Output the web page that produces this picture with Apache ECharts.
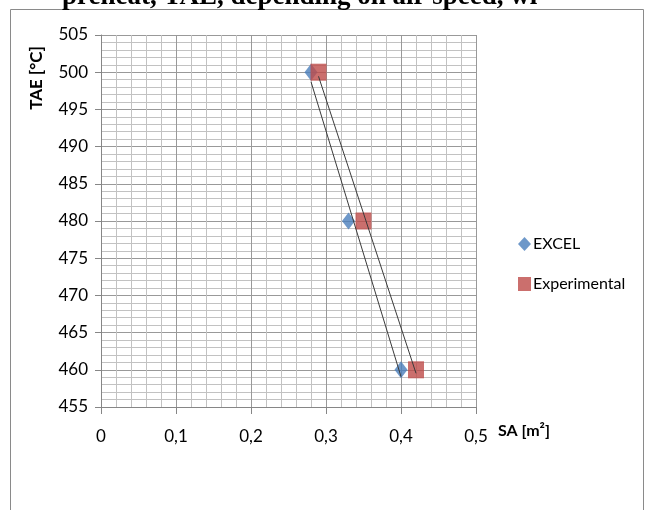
<!DOCTYPE html>
<html><head><meta charset="utf-8">
<script src="https://cdn.jsdelivr.net/npm/echarts@6/dist/echarts.min.js"></script>
<style>html,body{margin:0;padding:0;background:#fff}#c{width:647px;height:510px}</style>
</head><body><div id="c"></div>
<script>
const titleText = 'preheat, TAE, depending on air speed, wi';
const seriesNames = ['EXCEL', 'Experimental'];
const excelSA = [0.28, 0.33, 0.40];
const excelTAE = [500, 480, 460];
const expSA = [0.29, 0.35, 0.42];
const expTAE = [500, 480, 460];
const xTicks = [0, 0.1, 0.2, 0.3, 0.4, 0.5];
const yTicks = [455, 460, 465, 470, 475, 480, 485, 490, 495, 500, 505];

function pairs(xs, ys){ return xs.map((x,i)=>[x, ys[i]]); }
// Excel-style linear trendline (least squares) over the data range
function trend(xs, ys){
  const n = xs.length;
  const mx = xs.reduce((a,b)=>a+b,0)/n, my = ys.reduce((a,b)=>a+b,0)/n;
  let sxx=0, sxy=0;
  for(let i=0;i<n;i++){ sxx+=(xs[i]-mx)*(xs[i]-mx); sxy+=(xs[i]-mx)*(ys[i]-my); }
  const b = sxy/sxx, a = my - b*mx;
  const x0 = Math.min(...xs), x1 = Math.max(...xs);
  return [[x0, a+b*x0],[x1, a+b*x1]];
}
const font = 'Lato, "Open Sans", sans-serif';
const chart = echarts.init(document.getElementById('c'), null, {renderer:'canvas'});
chart.setOption({
  backgroundColor:'#ffffff',
  animation:false,
  graphic:[
    {type:'rect', shape:{x:10.5, y:9.5, width:633, height:520}, style:{fill:null, stroke:'#8a8a8a', lineWidth:1}, z:-1},
    {type:'text', x:62, y:11, style:{text:titleText, font:'bold 27px "Liberation Serif", "Times New Roman", serif', fill:'#000', textVerticalAlign:'bottom', verticalAlign:'bottom'}},
    {type:'text', x:37, y:78, rotation:Math.PI/2, style:{text:'TAE [°C]', font:'bold 17px '+font, fill:'#000', align:'center', verticalAlign:'middle', textAlign:'center', textVerticalAlign:'middle'}}
  ],
  grid:{left:101, right:171, top:35, bottom:103, containLabel:false},
  legend:{
    data:[{name:seriesNames[0], icon:'diamond'},{name:seriesNames[1], icon:'rect'}],
    orient:'vertical', left:513, top:231, itemGap:24, itemWidth:13, itemHeight:14,
    textStyle:{fontFamily:font, fontSize:16, color:'#000', padding:[0,0,0,-3]}
  },
  xAxis:{
    type:'value', min:0, max:0.5, interval:0.1,
    name:'SA [m²]', nameLocation:'end', nameGap:22,
    nameTextStyle:{fontFamily:font, fontWeight:'bold', fontSize:16, color:'#000', align:'left', verticalAlign:'top', padding:[16,0,0,0]},
    axisLine:{show:true, lineStyle:{color:'#868686', width:1}},
    axisTick:{show:true, length:7, lineStyle:{color:'#868686'}},
    axisLabel:{fontFamily:font, fontSize:17, color:'#000', margin:21, formatter:v=>String(Math.round(v*10)/10).replace('.',',')},
    splitLine:{show:true, lineStyle:{color:'#999999', width:1}},
    minorTick:{show:false, splitNumber:5},
    minorSplitLine:{show:true, lineStyle:{color:'#c2c2c2', width:1}}
  },
  yAxis:{
    type:'value', min:455, max:505, interval:5,
    axisLine:{show:true, lineStyle:{color:'#868686', width:1}},
    axisTick:{show:true, length:6, lineStyle:{color:'#868686'}},
    axisLabel:{fontFamily:font, fontSize:17, color:'#000', margin:13},
    splitLine:{show:true, lineStyle:{color:'#999999', width:1}},
    minorTick:{show:false, splitNumber:5},
    minorSplitLine:{show:true, lineStyle:{color:'#c2c2c2', width:1}}
  },
  series:[
    {name:seriesNames[0]+' trend', type:'line', data:trend(excelSA, excelTAE), symbol:'none', lineStyle:{color:'#3a3a3a', width:1}, z:3, silent:true},
    {name:seriesNames[1]+' trend', type:'line', data:trend(expSA, expTAE), symbol:'none', lineStyle:{color:'#3a3a3a', width:1}, z:3, silent:true},
    {name:seriesNames[0], type:'scatter', data:pairs(excelSA, excelTAE), symbol:'diamond', symbolSize:[13,17], itemStyle:{color:'#4a7ebb'}, z:2},
    {name:seriesNames[1], type:'scatter', data:pairs(expSA, expTAE), symbol:'rect', symbolSize:[16,17], itemStyle:{color:'#be4b48'}, z:2}
  ]
});
</script></body></html>
